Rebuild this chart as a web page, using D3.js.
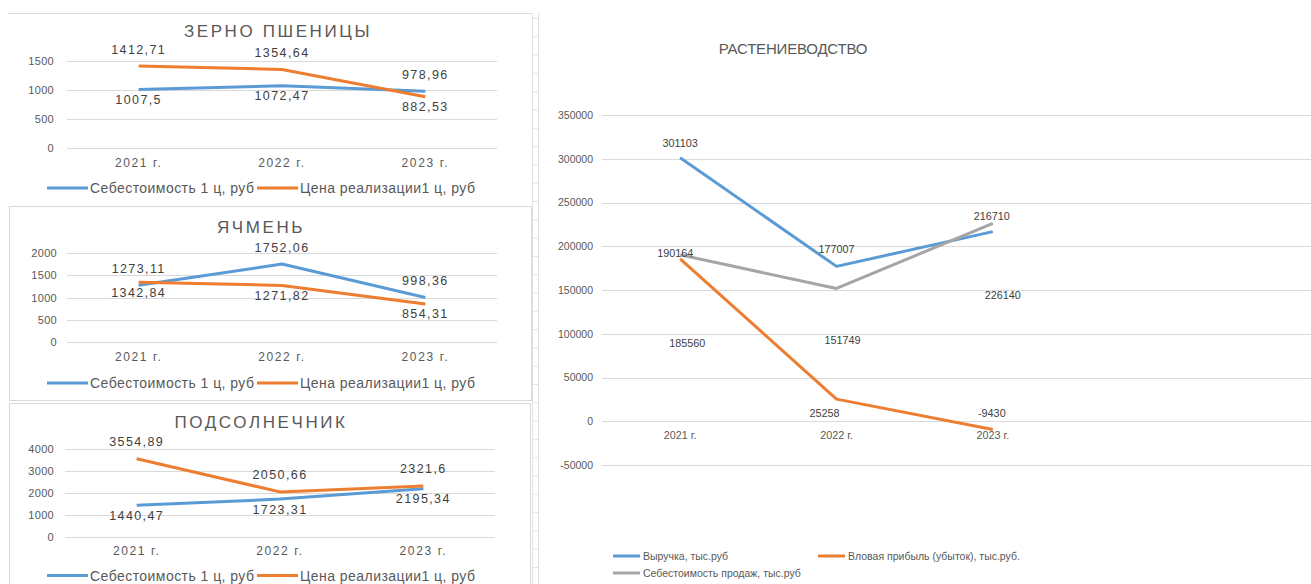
<!DOCTYPE html>
<html><head><meta charset="utf-8">
<script src="https://cdn.jsdelivr.net/npm/d3@7/dist/d3.min.js"></script>
<style>
html,body{margin:0;padding:0;background:#fff;}
svg{display:block;font-family:"Liberation Sans",Arial,sans-serif;}
</style></head>
<body><svg id="c" width="1311" height="584"></svg>
<script>
// ---------- DATA ----------
const years = ["2021 г.", "2022 г.", "2023 г."];
const smallSeriesNames = ["Себестоимость 1 ц, руб", "Цена реализации1 ц, руб"];

const wheatTitle = "ЗЕРНО ПШЕНИЦЫ";
const wheatCost  = [1007.5, 1072.47, 978.96];
const wheatPrice = [1412.71, 1354.64, 882.53];
const wheatTicks = [0, 500, 1000, 1500];

const barleyTitle = "ЯЧМЕНЬ";
const barleyCost  = [1273.11, 1752.06, 998.36];
const barleyPrice = [1342.84, 1271.82, 854.31];
const barleyTicks = [0, 500, 1000, 1500, 2000];

const sunTitle = "ПОДСОЛНЕЧНИК";
const sunCost  = [1440.47, 1723.31, 2195.34];
const sunPrice = [3554.89, 2050.66, 2321.6];
const sunTicks = [0, 1000, 2000, 3000, 4000];

const cropTitle = "РАСТЕНИЕВОДСТВО";
const cropSeriesNames = ["Выручка, тыс.руб", "Вловая прибыль (убыток), тыс.руб.", "Себестоимость продаж, тыс.руб"];
const revenue     = [301103, 177007, 216710];
const grossProfit = [185560, 25258, -9430];
const costOfSales = [190164, 151749, 226140];
const cropTicks = [-50000, 0, 50000, 100000, 150000, 200000, 250000, 300000, 350000];

// ---------- STYLE ----------
const BLUE = "#5B9BD5", ORANGE = "#ED7D31", GRAY = "#A5A5A5";
const GRID = "#D9D9D9", AXIS_TXT = "#595959", LBL_TXT = "#404040";
const fmt = v => String(v).replace(".", ",");

const svg = d3.select("#c");

// spreadsheet backdrop: frames and a narrow column strip
const bg = svg.append("g");
bg.append("line").attr("x1", 8).attr("x2", 532).attr("y1", 13.5).attr("y2", 13.5).attr("stroke", "#D9D9D9");
bg.append("rect").attr("x", 9.5).attr("y", 206.5).attr("width", 522).attr("height", 194).attr("fill", "none").attr("stroke", "#D9D9D9");
bg.append("path").attr("d", "M9.5,584 V403.5 H530.5 V584").attr("fill", "none").attr("stroke", "#D9D9D9");
bg.append("line").attr("x1", 532.5).attr("x2", 532.5).attr("y1", 13).attr("y2", 584).attr("stroke", "#E2E2E2");
bg.append("line").attr("x1", 538.5).attr("x2", 538.5).attr("y1", 13).attr("y2", 584).attr("stroke", "#E2E2E2");
bg.selectAll("line.row").data(d3.range(18.5, 584, 18.3)).enter().append("line")
  .attr("x1", 533).attr("x2", 538).attr("y1", d => d).attr("y2", d => d).attr("stroke", "#E6E6E6");

// ---------- small charts ----------
function smallChart(cfg) {
  const g = svg.append("g");
  const x = d3.scaleBand().domain(years).range(cfg.xr);
  const y = d3.scaleLinear().domain([0, d3.max(cfg.ticks)]).range(cfg.yr);
  g.selectAll("line.grid").data(cfg.ticks).enter().append("line")
    .attr("x1", cfg.xr[0]).attr("x2", cfg.xr[1])
    .attr("y1", d => Math.round(y(d)) + 0.5).attr("y2", d => Math.round(y(d)) + 0.5)
    .attr("stroke", GRID);
  const ya = d3.axisLeft(y).tickValues(cfg.ticks).tickSize(0).tickPadding(0).tickFormat(d => String(d));
  const yg = g.append("g").attr("transform", `translate(${cfg.yLabelX},0)`).call(ya);
  yg.select(".domain").remove();
  yg.selectAll("text").attr("fill", AXIS_TXT).style("font-size", "11px").style("font-family", "Liberation Sans, Arial").attr("letter-spacing", "0.3");
  const xa = d3.axisBottom(x).tickSize(0).tickPadding(0);
  const xg = g.append("g").attr("transform", `translate(0,${cfg.xLabelY})`).call(xa);
  xg.select(".domain").remove();
  xg.selectAll("text").attr("fill", AXIS_TXT).attr("dy", "0.35em").style("font-size", "12px").style("font-family", "Liberation Sans, Arial").attr("letter-spacing", "1.6");
  g.append("text").attr("x", cfg.titleX).attr("y", cfg.titleY).attr("text-anchor", "middle")
    .attr("fill", AXIS_TXT).style("font-size", "17px").attr("letter-spacing", "2.6").text(cfg.title);
  const series = [{v: cfg.cost, c: BLUE}, {v: cfg.price, c: ORANGE}];
  const line = d3.line().x((d, i) => x(years[i]) + x.bandwidth() / 2).y(d => y(d));
  series.forEach(s => {
    g.append("path").datum(s.v).attr("d", line).attr("fill", "none")
      .attr("stroke", s.c).attr("stroke-width", 3).attr("stroke-linejoin", "round");
  });
  series.forEach((s, si) => {
    s.v.forEach((v, i) => {
      const other = series[1 - si].v[i];
      let above;
      if (cfg.rule === "larger") above = v >= other;
      else above = si === 0;
      g.append("text").attr("x", x(years[i]) + x.bandwidth() / 2).attr("y", y(v) + (above ? -16.5 : 10.5))
        .attr("text-anchor", "middle").attr("dominant-baseline", "central")
        .attr("fill", LBL_TXT).style("font-size", "12.5px").attr("letter-spacing", "1.4").text(fmt(v));
    });
  });
  const ly = cfg.legendY;
  const items = [{n: smallSeriesNames[0], c: BLUE, x0: 47, x1: 88}, {n: smallSeriesNames[1], c: ORANGE, x0: 257, x1: 298}];
  items.forEach(it => {
    g.append("line").attr("x1", it.x0).attr("x2", it.x1).attr("y1", ly).attr("y2", ly)
      .attr("stroke", it.c).attr("stroke-width", 3);
    g.append("text").attr("x", it.x1 + 2).attr("y", ly).attr("dominant-baseline", "central")
      .attr("fill", AXIS_TXT).style("font-size", "14px").attr("letter-spacing", "0.45").text(it.n);
  });
}

smallChart({title: wheatTitle, cost: wheatCost, price: wheatPrice, ticks: wheatTicks,
  xr: [67, 497], yr: [148, 61], yLabelX: 54, xLabelY: 163, titleX: 278, titleY: 37, legendY: 188, rule: "larger"});
smallChart({title: barleyTitle, cost: barleyCost, price: barleyPrice, ticks: barleyTicks,
  xr: [67, 497], yr: [342, 253], yLabelX: 57, xLabelY: 357, titleX: 261, titleY: 233, legendY: 383, rule: "first"});
smallChart({title: sunTitle, cost: sunCost, price: sunPrice, ticks: sunTicks,
  xr: [65, 495], yr: [537, 449], yLabelX: 54, xLabelY: 551, titleX: 261, titleY: 428, legendY: 575.5, rule: "larger"});

// ---------- big chart ----------
(function () {
  const g = svg.append("g");
  const x = d3.scaleBand().domain(years).range([602, 1071]);
  const y = d3.scaleLinear().domain([d3.min(cropTicks), d3.max(cropTicks)]).range([465, 115]);
  g.selectAll("line.grid").data(cropTicks).enter().append("line")
    .attr("x1", 602).attr("x2", 1311)
    .attr("y1", d => Math.round(y(d)) + 0.5).attr("y2", d => Math.round(y(d)) + 0.5)
    .attr("stroke", GRID);
  const ya = d3.axisLeft(y).tickValues(cropTicks).tickSize(0).tickPadding(0).tickFormat(d => String(d));
  const yg = g.append("g").attr("transform", "translate(593,0)").call(ya);
  yg.select(".domain").remove();
  yg.selectAll("text").attr("fill", AXIS_TXT).style("font-size", "10.5px").style("font-family", "Liberation Sans, Arial");
  const xa = d3.axisBottom(x).tickSize(0).tickPadding(0);
  const xg = g.append("g").attr("transform", `translate(0,${y(0) + 14})`).call(xa);
  xg.select(".domain").remove();
  xg.selectAll("text").attr("fill", AXIS_TXT).attr("dy", "0.35em").style("font-size", "10.8px").style("font-family", "Liberation Sans, Arial");
  g.append("text").attr("x", 793).attr("y", 54).attr("text-anchor", "middle").attr("fill", AXIS_TXT)
    .style("font-size", "15px").attr("letter-spacing", "-0.2").text(cropTitle);

  const series = [
    {v: revenue, c: BLUE, nudge: [[0, -15], [0, -17], [-1, -16]]},
    {v: costOfSales, c: GRAY, nudge: [[-5, -2], [6, 52], [10, 72]]},
    {v: grossProfit, c: ORANGE, nudge: [[7, 84], [-12, 14], [-1, -17]]}
  ];
  const cx = i => x(years[i]) + x.bandwidth() / 2;
  const line = d3.line().x((d, i) => cx(i)).y(d => y(d));
  [series[0], series[2], series[1]].forEach(s => {
    g.append("path").datum(s.v).attr("d", line).attr("fill", "none")
      .attr("stroke", s.c).attr("stroke-width", 3).attr("stroke-linejoin", "round");
  });
  series.forEach(s => {
    s.v.forEach((v, i) => {
      g.append("text").attr("x", cx(i) + s.nudge[i][0]).attr("y", y(v) + s.nudge[i][1])
        .attr("text-anchor", "middle").attr("dominant-baseline", "central")
        .attr("fill", LBL_TXT).style("font-size", "10.8px").text(String(v));
    });
  });
  const leg = [
    {n: cropSeriesNames[0], c: BLUE, x0: 613, y: 556},
    {n: cropSeriesNames[1], c: ORANGE, x0: 818, y: 556},
    {n: cropSeriesNames[2], c: GRAY, x0: 613, y: 573}
  ];
  leg.forEach(it => {
    g.append("line").attr("x1", it.x0).attr("x2", it.x0 + 27).attr("y1", it.y).attr("y2", it.y)
      .attr("stroke", it.c).attr("stroke-width", 3);
    g.append("text").attr("x", it.x0 + 30).attr("y", it.y).attr("dominant-baseline", "central")
      .attr("fill", AXIS_TXT).style("font-size", "10.5px").text(it.n);
  });
})();
</script>
</body></html>
